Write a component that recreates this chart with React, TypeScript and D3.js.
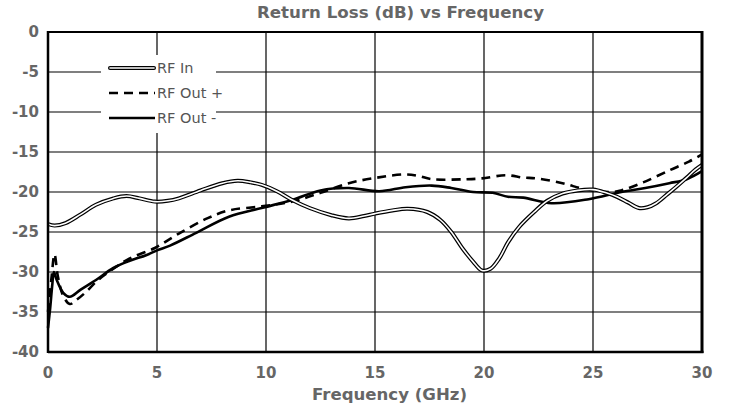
import React from "react";
import * as d3 from "d3";

const yTicks = [0, -5, -10, -15, -20, -25, -30, -35, -40];
const xTicks = [0, 5, 10, 15, 20, 25, 30];

const rfInFreq = [0, 0.3, 0.8, 1.5, 2.2, 3.0, 3.6, 4.2, 4.9, 5.5, 6.0, 7.0, 8.0, 8.7, 9.3, 9.8, 10.5, 11.2, 12.0, 13.0, 13.8, 14.5, 15.0, 15.8, 16.5, 17.4, 18.0, 18.5, 19.0, 19.5, 19.9, 20.3, 20.7, 21.1, 21.6, 22.3, 22.9, 23.6, 24.3, 25.0, 25.6, 26.1, 26.6, 27.1, 27.5, 27.9, 28.4, 28.8, 29.3, 29.7, 30.0];
const rfInVals = [-24.0, -24.2, -23.9, -22.8, -21.6, -20.8, -20.5, -20.8, -21.2, -21.1, -20.8, -19.8, -18.9, -18.6, -18.8, -19.1, -19.9, -21.0, -22.0, -22.9, -23.3, -23.0, -22.7, -22.3, -22.1, -22.5, -23.5, -25.0, -27.0, -28.7, -29.8, -29.6, -28.3, -26.3, -24.4, -22.5, -21.1, -20.2, -19.8, -19.7, -20.1, -20.6, -21.3, -22.0, -21.9, -21.4, -20.3, -19.4, -18.2, -17.2, -16.6];

const rfOutPFreq = [0, 0.15, 0.3, 0.45, 0.7, 1.0, 1.3, 1.7, 2.3, 3.0, 3.75, 4.9, 6.0, 7.3, 8.3, 9.8, 11.2, 12.5, 13.8, 15.1, 16.4, 17.0, 17.6, 19.2, 19.9, 21.0, 21.8, 22.4, 23.6, 24.7, 25.9, 26.3, 27.3, 28.5, 29.4, 30.0];
const rfOutPVals = [-35.0, -31.0, -27.8, -30.5, -33.0, -34.0, -33.5, -32.6, -31.0, -29.6, -28.3, -27.0, -25.2, -23.3, -22.3, -21.8, -21.2, -20.1, -18.9, -18.2, -17.8, -18.0, -18.4, -18.4, -18.3, -17.9, -18.2, -18.3, -18.9, -19.7, -20.0, -19.8, -18.8, -17.3, -16.2, -15.3];

const rfOutMFreq = [0, 0.1, 0.2, 0.27, 0.4, 0.7, 1.0, 1.5, 2.2, 3.0, 3.75, 4.5, 5.0, 5.6, 6.8, 8.3, 9.8, 11.2, 12.5, 13.8, 15.2, 16.4, 17.6, 18.5, 19.5, 20.4, 21.1, 21.8, 23.1, 24.8, 26.3, 27.4, 28.5, 29.3, 30.0];
const rfOutMVals = [-37.0, -34.5, -31.5, -30.0, -31.0, -32.6, -33.1, -32.2, -31.0, -29.5, -28.6, -27.9, -27.3, -26.7, -25.1, -23.1, -22.0, -21.0, -19.8, -19.5, -19.9, -19.4, -19.2, -19.5, -20.0, -20.1, -20.6, -20.7, -21.4, -20.9, -20.0, -19.5, -18.9, -18.4, -17.4];

const legendLabels = ["RF In", "RF Out +", "RF Out -"];

const W = 732;
const H = 410;
const L = 48, R = 702, T = 32, B = 352;

export default function App() {
  const x = d3.scaleLinear().domain([0, 30]).range([L, R]);
  const y = d3.scaleLinear().domain([-40, 0]).range([B, T]);
  const line = d3
    .line<[number, number]>()
    .x((d) => x(d[0]))
    .y((d) => y(d[1]))
    .curve(d3.curveCatmullRom.alpha(0.5));
  const zip = (f: number[], v: number[]) => f.map((ff, i) => [ff, v[i]] as [number, number]);
  const font = "'DejaVu Sans', sans-serif";
  const gray = "#666";

  const legY = [68, 93, 118];
  return (
    <svg width={W} height={H} style={{ position: "absolute", left: 0, top: 0, background: "#fff" }}>
      <rect width={W} height={H} fill="#fff" />
      {yTicks.map((t) => (
        <line key={"h" + t} x1={L} x2={R} y1={y(t)} y2={y(t)} stroke="#555" strokeWidth={1.5} />
      ))}
      {xTicks.map((t) => (
        <line key={"v" + t} x1={x(t)} x2={x(t)} y1={T} y2={B} stroke="#000" strokeWidth={1.2} />
      ))}
      {/* legend background */}
      <rect x={101} y={55} width={115} height={78} fill="#fff" />
      <path d={line(zip(rfOutMFreq, rfOutMVals)) || ""} fill="none" stroke="#000" strokeWidth={2.6} />
      <path d={line(zip(rfOutPFreq, rfOutPVals)) || ""} fill="none" stroke="#000" strokeWidth={2.6} strokeDasharray="9 6" />
      <path d={line(zip(rfInFreq, rfInVals)) || ""} fill="none" stroke="#000" strokeWidth={4} />
      <path d={line(zip(rfInFreq, rfInVals)) || ""} fill="none" stroke="#fff" strokeWidth={1.6} />
      {/* frame */}
      <line x1={L} x2={R} y1={T} y2={T} stroke="#000" strokeWidth={2} />
      <line x1={L} x2={R + 1.5} y1={B} y2={B} stroke="#000" strokeWidth={2.5} />
      <line x1={L} x2={L} y1={T - 1} y2={B + 1} stroke="#000" strokeWidth={2.5} />
      <line x1={R} x2={R} y1={T - 1} y2={B + 1} stroke="#000" strokeWidth={3} />
      {/* legend */}
      <line x1={110} x2={154} y1={legY[0]} y2={legY[0]} stroke="#000" strokeWidth={4} strokeLinecap="round" />
      <line x1={110} x2={154} y1={legY[0]} y2={legY[0]} stroke="#fff" strokeWidth={1.6} strokeLinecap="round" />
      <line x1={109} x2={155} y1={legY[1]} y2={legY[1]} stroke="#000" strokeWidth={2.6} strokeDasharray="9 6" />
      <line x1={109} x2={155} y1={legY[2]} y2={legY[2]} stroke="#000" strokeWidth={2.6} />
      {legendLabels.map((lab, i) => (
        <text key={lab} x={157} y={legY[i] + 5} fontFamily={font} fontSize={14.5} fill="#555">
          {lab}
        </text>
      ))}
      {/* tick labels */}
      {yTicks.map((t) => (
        <text key={"yl" + t} x={39} y={y(t) + 5} textAnchor="end" fontFamily={font} fontSize={15} fontWeight="bold" fill={gray}>
          {t}
        </text>
      ))}
      {xTicks.map((t) => (
        <text key={"xl" + t} x={x(t)} y={377.5} textAnchor="middle" fontFamily={font} fontSize={15} fontWeight="bold" fill={gray}>
          {t}
        </text>
      ))}
      <text x={257} y={18.3} fontFamily={font} fontSize={15} fontWeight="bold" fill={gray} textLength={287} lengthAdjust="spacingAndGlyphs">
        Return Loss (dB) vs Frequency
      </text>
      <text x={312} y={400} fontFamily={font} fontSize={16} fontWeight="bold" fill={gray} textLength={155} lengthAdjust="spacingAndGlyphs">
        Frequency (GHz)
      </text>
    </svg>
  );
}
